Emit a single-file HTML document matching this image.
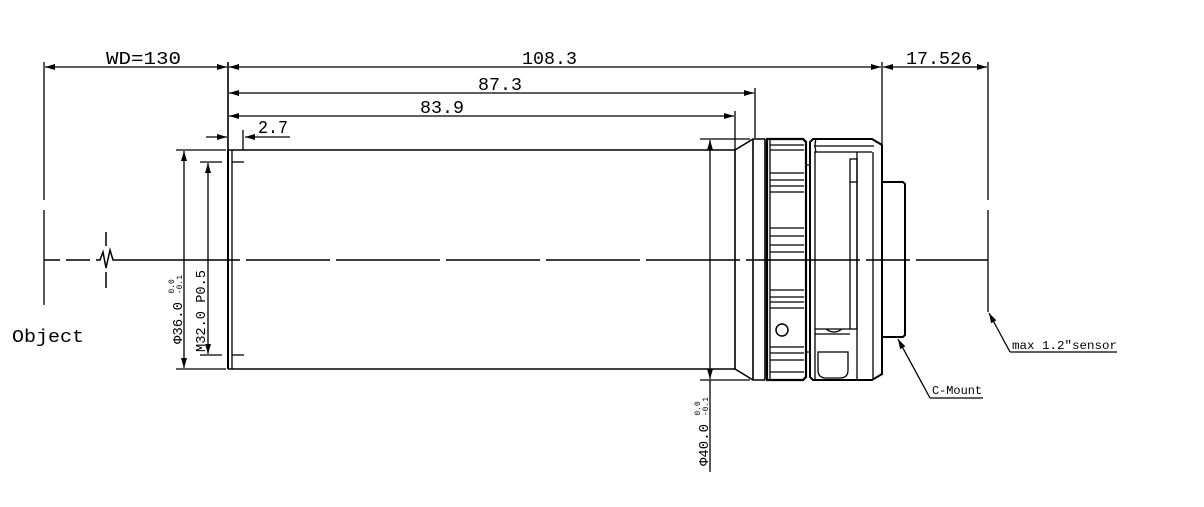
<!DOCTYPE html>
<html><head><meta charset="utf-8"><style>
html,body{margin:0;padding:0;background:#fff;}
svg{display:block;}
text{font-family:"Liberation Mono","DejaVu Sans Mono",monospace;fill:#000;}
</style></head><body>
<svg width="1204" height="507" viewBox="0 0 1204 507" xmlns="http://www.w3.org/2000/svg">
<defs>
<marker id="a" viewBox="0 0 10 6" refX="10" refY="3" markerWidth="10" markerHeight="6" orient="auto-start-reverse" markerUnits="userSpaceOnUse"><path d="M0,0L10,3L0,6z" fill="#000"/></marker>
</defs>
<g stroke="#000" fill="none" stroke-width="1.3">
<line x1="44" y1="62" x2="44" y2="200"/>
<line x1="44" y1="210" x2="44" y2="305"/>
<line x1="45" y1="67" x2="227" y2="67" marker-start="url(#a)" marker-end="url(#a)"/>
<line x1="229" y1="67" x2="881" y2="67" marker-start="url(#a)" marker-end="url(#a)"/>
<line x1="883" y1="67" x2="987" y2="67" marker-start="url(#a)" marker-end="url(#a)"/>
<line x1="229" y1="93" x2="754" y2="93" marker-start="url(#a)" marker-end="url(#a)"/>
<line x1="229" y1="116" x2="734" y2="116" marker-start="url(#a)" marker-end="url(#a)"/>
<line x1="206" y1="137" x2="227" y2="137" marker-end="url(#a)"/>
<line x1="290" y1="137" x2="245" y2="137" marker-end="url(#a)"/>
<line x1="228" y1="62" x2="228" y2="150" stroke-width="1.6"/>
<line x1="243" y1="130" x2="243" y2="150"/>
<line x1="755" y1="88" x2="755" y2="138"/>
<line x1="735" y1="111" x2="735" y2="150"/>
<line x1="882" y1="62" x2="882" y2="145"/>
<line x1="988" y1="62" x2="988" y2="200"/>
<line x1="988" y1="210" x2="988" y2="312"/>
<path d="M44,260H60M66,260H90M96,260H100L103,252L106,268L110,250L113,260H240M246,260H330M336,260H440M446,260H540M546,260H640M646,260H740M746,260H860M866,260H910M916,260H988" stroke-width="1.5"/>
<line x1="106" y1="232" x2="106" y2="246" stroke-width="1.5"/>
<line x1="106" y1="272" x2="106" y2="288" stroke-width="1.5"/>
<line x1="228" y1="150" x2="228" y2="369" stroke-width="2"/>
<line x1="232" y1="150" x2="232" y2="369" stroke-width="1.3"/>
<line x1="228" y1="150" x2="735" y2="150" stroke-width="1.6"/>
<line x1="228" y1="369" x2="735" y2="369" stroke-width="1.6"/>
<line x1="232" y1="162" x2="244" y2="162"/>
<line x1="232" y1="355" x2="244" y2="355"/>
<line x1="176" y1="150" x2="226" y2="150"/>
<line x1="176" y1="369" x2="226" y2="369"/>
<line x1="184" y1="151" x2="184" y2="368" marker-start="url(#a)" marker-end="url(#a)"/>
<line x1="200" y1="162" x2="222" y2="162"/>
<line x1="200" y1="355" x2="222" y2="355"/>
<line x1="208" y1="163" x2="208" y2="354" marker-start="url(#a)" marker-end="url(#a)"/>
<path d="M735,150V369M735,150L753,139H765M735,369L753,380H765M753,139V380M765,139V380" stroke-width="1.6"/>
<line x1="700" y1="139" x2="750" y2="139"/>
<line x1="700" y1="380" x2="750" y2="380"/>
<line x1="710" y1="140" x2="710" y2="379" marker-start="url(#a)" marker-end="url(#a)"/>
<line x1="710" y1="380" x2="710" y2="472"/>
<path d="M767,139H803L806,142V377L803,380H767Z" stroke-width="2.2"/>
<line x1="770" y1="139" x2="770" y2="380"/>
<path d="M770,145H804M770,150H804M770,173H804M770,180H804M770,186H804M770,192H804M770,228H804M770,236H804M770,245H804M770,252H804M770,290H804M770,297H804M770,302H804M770,308H804M770,347H804M770,353H804M770,360H804M770,372H804"/>
<circle cx="782" cy="330" r="6" stroke-width="1.5"/>
<line x1="806" y1="165" x2="810" y2="165"/>
<line x1="806" y1="352" x2="810" y2="352"/>
<path d="M813,139H872L882,145V374L872,380H813L810,377V142Z" stroke-width="2"/>
<path d="M814,152H872M814,146H874M816,139Q814,145 816,152" />
<line x1="815" y1="152" x2="815" y2="380"/>
<line x1="857" y1="152" x2="857" y2="380"/>
<line x1="873" y1="152" x2="873" y2="380"/>
<rect x="850" y="159" width="7" height="170"/>
<line x1="850" y1="182" x2="857" y2="182"/>
<path d="M815,329H850M815,334H850M826,329Q834,335 842,329M818,352V370Q818,378 826,378H840Q848,378 848,370V352Z"/>
<path d="M882,182H903L905,184V335L903,337H882" stroke-width="2"/>
<line x1="930" y1="398" x2="898" y2="339" marker-end="url(#a)"/>
<line x1="930" y1="398" x2="983" y2="398"/>
<line x1="1010" y1="352" x2="989" y2="313" marker-end="url(#a)"/>
<line x1="1010" y1="352" x2="1117" y2="352"/>
</g>
<g font-size="18">
<text x="106" y="64" textLength="75" lengthAdjust="spacingAndGlyphs">WD=130</text>
<text x="522" y="64" textLength="55" lengthAdjust="spacingAndGlyphs">108.3</text>
<text x="906" y="64" textLength="66" lengthAdjust="spacingAndGlyphs">17.526</text>
<text x="478" y="90" textLength="44" lengthAdjust="spacingAndGlyphs">87.3</text>
<text x="420" y="113" textLength="44" lengthAdjust="spacingAndGlyphs">83.9</text>
<text x="258" y="133" textLength="30" lengthAdjust="spacingAndGlyphs">2.7</text>
<text x="12" y="342" textLength="72" lengthAdjust="spacingAndGlyphs">Object</text>
</g>
<text x="932" y="394" font-size="12" textLength="50" lengthAdjust="spacingAndGlyphs">C-Mount</text>
<text x="1012" y="349" font-size="12" textLength="105" lengthAdjust="spacingAndGlyphs">max 1.2″sensor</text>
<g font-size="14">
<text transform="translate(182,344) rotate(-90)">Φ36.0 <tspan font-size="8" dy="-8">0.0</tspan><tspan font-size="8" dx="-15" dy="8">-0.1</tspan></text>
<text transform="translate(205,352) rotate(-90)" textLength="82" lengthAdjust="spacingAndGlyphs">M32.0 P0.5</text>
<text transform="translate(708,466) rotate(-90)">Φ40.0 <tspan font-size="8" dy="-8">0.0</tspan><tspan font-size="8" dx="-15" dy="8">-0.1</tspan></text>
</g>
</svg>
</body></html>
